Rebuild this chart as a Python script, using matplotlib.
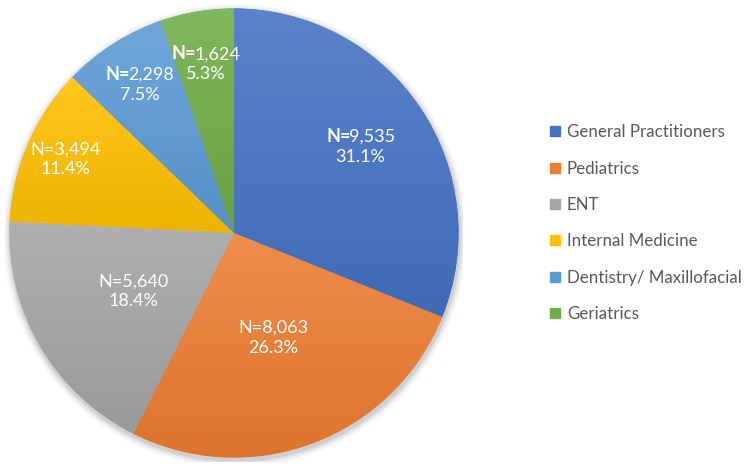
import numpy as np
import matplotlib
matplotlib.use("Agg")
import matplotlib.pyplot as plt
import matplotlib.colors as mcolors
from matplotlib.lines import Line2D
from matplotlib.patches import Circle

# --- Data ---
categories = ["General Practitioners", "Pediatrics", "ENT", "Internal Medicine",
              "Dentistry/ Maxillofacial", "Geriatrics"]
counts = [9535, 8063, 5640, 3494, 2298, 1624]
percents = [31.1, 26.3, 18.4, 11.4, 7.5, 5.3]
bold_n = [True, False, False, False, True, True]

# --- Style ---
colors = ["#4472C4", "#ED7D31", "#A5A5A5", "#FFC000", "#5B9BD5", "#70AD47"]
label_r = [0.68, 0.50, 0.52, 0.82, 0.78, 0.76]
plt.rcParams['font.family'] = ['Lato', 'DejaVu Sans']

W, H = 750, 471
fig = plt.figure(figsize=(W / 100, H / 100), dpi=100)
cx, cy, R = 234, 233, 229
ax = fig.add_axes([(cx - R) / W, (H - cy - R) / H, 2 * R / W, 2 * R / H])
ax.set_xlim(-1.02, 1.02)
ax.set_ylim(-1.02, 1.02)
ax.set_aspect('equal')
ax.axis('off')

# soft shadow under the pie
for i, a in enumerate(np.linspace(0.05, 0.012, 6)):
    ax.add_patch(Circle((0.004, -0.012), 1.0 + 0.006 * (i + 1), color='black',
                        alpha=a, lw=0, zorder=0))

wedges, _ = ax.pie(counts, colors=colors, startangle=90, counterclock=False,
                   radius=1.0, wedgeprops=dict(linewidth=0))
for w in wedges:
    w.set_zorder(1)


def shade(c, f):
    rgb = np.array(mcolors.to_rgb(c))
    if f > 0:
        return rgb + (1 - rgb) * f
    return rgb * (1 + f)


# vertical gradient inside each wedge (lighter at top, darker at bottom)
fig.canvas.draw()
for w, c in zip(wedges, colors):
    ext = w.get_path().get_extents()
    top, bot = shade(c, 0.12), shade(c, -0.07)
    t = np.linspace(0, 1, 128)[:, None]
    grad = top[None, :] * (1 - t) + bot[None, :] * t
    img = ax.imshow(grad[:, None, :], extent=[ext.x0, ext.x1, ext.y0, ext.y1],
                    origin='upper', aspect='auto', zorder=2, interpolation='bilinear')
    img.set_clip_path(w)
ax.set_xlim(-1.02, 1.02)
ax.set_ylim(-1.02, 1.02)

# data labels
fs = 13
renderer = fig.canvas.get_renderer()
inv = ax.transData.inverted()
for w, n, p, r, b in zip(wedges, counts, percents, label_r, bold_n):
    ang = np.deg2rad((w.theta1 + w.theta2) / 2)
    x, y = r * np.cos(ang), r * np.sin(ang)
    px, py = ax.transData.transform((x, y))
    ax.text(*inv.transform((px, py - 1.5)), f"{p:.1f}%", ha='center', va='top',
            color='white', fontsize=fs, zorder=5)
    num = f"{n:,}"
    if b:
        t1 = ax.text(0, 0, "N=", fontsize=fs, fontweight='bold', color='white')
        t2 = ax.text(0, 0, num, fontsize=fs, color='white')
        w1 = t1.get_window_extent(renderer).width - 2
        w2 = t2.get_window_extent(renderer).width
        left = px - (w1 + w2) / 2
        t1.set_position(inv.transform((left, py + 2.5)))
        t1.set_ha('left'); t1.set_va('bottom'); t1.set_zorder(5)
        t2.set_position(inv.transform((left + w1, py + 2.5)))
        t2.set_ha('left'); t2.set_va('bottom'); t2.set_zorder(5)
    else:
        ax.text(*inv.transform((px, py + 2.5)), f"N={num}", ha='center', va='bottom',
                color='white', fontsize=fs, zorder=5)

# legend
handles = [Line2D([], [], marker='s', linestyle='none', markersize=7,
                  markerfacecolor=c, markeredgecolor=c) for c in colors]
leg = fig.legend(handles, categories, loc='center left',
                 bbox_to_anchor=(549 / W, 1 - 223 / H), frameon=False,
                 fontsize=12.2, labelspacing=1.2, handlelength=0.7,
                 handletextpad=0.35, borderpad=0, borderaxespad=0)
for txt in leg.get_texts():
    txt.set_color('#595959')

fig.savefig("out.png", dpi=100)
